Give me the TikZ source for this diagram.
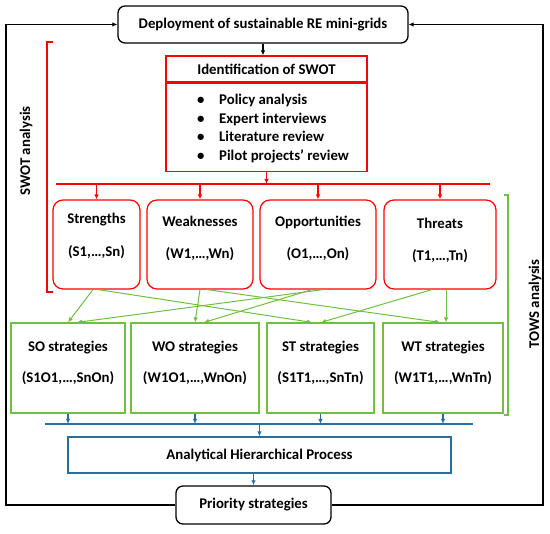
\documentclass[tikz,border=0pt]{standalone}
\usepackage{fontspec}
\setmainfont{Carlito}
\usetikzlibrary{arrows.meta,positioning}
\definecolor{swotred}{RGB}{255,0,0}
\definecolor{towsgreen}{RGB}{112,190,68}
\definecolor{ahpblue}{RGB}{38,112,160}

\begin{document}
\begin{tikzpicture}[x=1pt,y=1pt,
		font=\fontsize{14.8}{18}\selectfont\bfseries,
		tip/.style={-{Latex[length=5pt,width=4.5pt]}},
		blackbox/.style={draw, line width=1.3pt, rounded corners=7pt, inner sep=0pt},
		redbox/.style={draw=swotred, line width=1.2pt, inner sep=0pt},
		swotbox/.style={redbox, rounded corners=10pt, minimum height=89},
		towsbox/.style={draw=towsgreen, line width=1.2pt, inner sep=0pt, minimum height=90},
		lbl/.style={align=center, inner sep=0pt}]

		\useasboundingbox (0,0) rectangle (550,534);

		% Start and end boxes (black)
		\node[blackbox, minimum width=290, minimum height=37] (deploy) at (263,509.5) {Deployment of sustainable RE mini-grids};
		\node[blackbox, minimum width=155, minimum height=38] (prio) at (253.5,29) {Priority strategies};

		% Feedback loop
		\coordinate (loopL) at (6,29);
		\coordinate (loopR) at (543,29);
		\draw[line width=1.3pt, tip] (prio.west) -- (loopL) |- (deploy.west);
		\draw[line width=1.3pt, tip] (prio.east) -- (loopR) |- (deploy.east);

		% Identification of SWOT (red)
		\node[redbox, minimum width=201, minimum height=26] (swot) at (266.5,465) {Identification of SWOT};
		\node[redbox, minimum width=201, minimum height=88, below=0pt of swot] (swotlist) {};
		\node[anchor=west, align=left, inner sep=0pt] (items) at (197,405.5)
			{\makebox[22pt][l]{\textbullet}Policy analysis\\[0.7pt]
			 \makebox[22pt][l]{\textbullet}Expert interviews\\[0.7pt]
			 \makebox[22pt][l]{\textbullet}Literature review\\[0.7pt]
			 \makebox[22pt][l]{\textbullet}Pilot projects’ review};
		\draw[line width=1.2pt, tip] (deploy.south) -- (deploy.south |- swot.north);

		% Red bus and SWOT boxes
		\coordinate (rbusL) at (56,350);
		\coordinate (rbusR) at (490,350);
		\draw[swotred, line width=1.2pt] (rbusL) -- (rbusR);
		\draw[swotred, line width=1.2pt, tip] (swotlist.south) -- (swotlist.south |- rbusL);

		\node[swotbox, minimum width=87] (str) at (96.5,289.5) {};
		\node[swotbox, minimum width=106] (wea) at (200,289.5) {};
		\node[swotbox, minimum width=116] (opp) at (318,289.5) {};
		\node[swotbox, minimum width=112] (thr) at (440,289.5) {};

		\node[lbl] (strt) at ([yshift=9pt]str.center) {Strengths\\[15pt](S1,…,Sn)};
		\node[lbl] (weat) at ([yshift=6pt]wea.center) {Weaknesses\\[14pt](W1,…,Wn)};
		\node[lbl] (oppt) at ([yshift=6pt]opp.center) {Opportunities\\[14pt](O1,…,On)};
		\node[lbl] (thrt) at ([yshift=4pt]thr.center) {Threats\\[14pt](T1,…,Tn)};

		\draw[swotred, line width=1.2pt, tip] (str.north |- rbusL) -- (str.north);
		\draw[swotred, line width=1.2pt, tip] (wea.north |- rbusL) -- (wea.north);
		\draw[swotred, line width=1.2pt, tip] (opp.north |- rbusL) -- (opp.north);
		\draw[swotred, line width=1.2pt, tip] (thr.north |- rbusL) -- (thr.north);

		% SWOT bracket
		\draw[swotred, line width=1.2pt] (53,492) -- (47,492) -- (47,242) -- (53,242);
		\node[rotate=90, inner sep=0pt] (swotlab) at (26,383) {SWOT analysis};

		% TOWS strategies (green)
		\node[towsbox, minimum width=114] (so) at (68,166) {};
		\node[towsbox, minimum width=128] (wo) at (195,166) {};
		\node[towsbox, minimum width=107] (st) at (320.5,166) {};
		\node[towsbox, minimum width=120] (wt) at (443,166) {};

		\node[lbl] (sot) at ([yshift=5.5pt]so.center) {SO strategies\\[13pt](S1O1,…,SnOn)};
		\node[lbl] (wot) at ([yshift=5.5pt]wo.center) {WO strategies\\[13pt](W1O1,…,WnOn)};
		\node[lbl] (stt) at ([yshift=5.5pt]st.center) {ST strategies\\[13pt](S1T1,…,SnTn)};
		\node[lbl] (wtt) at ([yshift=5.5pt]wt.center) {WT strategies\\[13pt](W1T1,…,WnTn)};

		% Cross links
		\draw[towsgreen, line width=1pt, tip] ([xshift=-3.5pt]str.south) -- (so.north);
		\draw[towsgreen, line width=1pt, tip] ([xshift=1.5pt]str.south) -- ([xshift=-8.5pt]st.north);
		\draw[towsgreen, line width=1pt, tip] (wea.south) -- (wo.north);
		\draw[towsgreen, line width=1pt, tip] ([xshift=7pt]wea.south) -- ([xshift=-3pt]wt.north);
		\draw[towsgreen, line width=1pt, tip] ([xshift=5pt]opp.south) -- ([xshift=9pt]so.north);
		\draw[towsgreen, line width=1pt, tip] ([xshift=-6pt]opp.south) -- ([xshift=9pt]wo.north);
		\draw[towsgreen, line width=1pt, tip] ([xshift=-8pt]thr.south) -- ([xshift=0.5pt]st.north);
		\draw[towsgreen, line width=1pt, tip] ([xshift=6pt]thr.south) -- ([xshift=3pt]wt.north);

		% TOWS bracket
		\draw[towsgreen, line width=1.2pt] (504,339) -- (508,339) -- (508,119) -- (504,119);
		\node[rotate=90, inner sep=0pt] (towslab) at (535,230) {TOWS analysis};

		% Blue bus and AHP
		\coordinate (bbusL) at (45,110);
		\coordinate (bbusR) at (473,110);
		\draw[ahpblue, line width=1.2pt] (bbusL) -- (bbusR);
		\draw[ahpblue, line width=1.2pt, tip] (so.south) -- (so.south |- bbusL);
		\draw[ahpblue, line width=1.2pt, tip] (wo.south) -- (wo.south |- bbusL);
		\draw[ahpblue, line width=1.2pt, tip] (st.south) -- (st.south |- bbusL);
		\draw[ahpblue, line width=1.2pt, tip] (wt.south) -- (wt.south |- bbusL);

		\node[draw=ahpblue, line width=1.2pt, minimum width=383, minimum height=36] (ahp) at (259.5,79) {Analytical Hierarchical Process};
		\draw[ahpblue, line width=1.2pt, tip] (ahp.north |- bbusL) -- (ahp.north);
		\draw[ahpblue, line width=1.2pt, tip] (ahp.south -| prio.north) -- (prio.north);

	\end{tikzpicture}
\end{document}
